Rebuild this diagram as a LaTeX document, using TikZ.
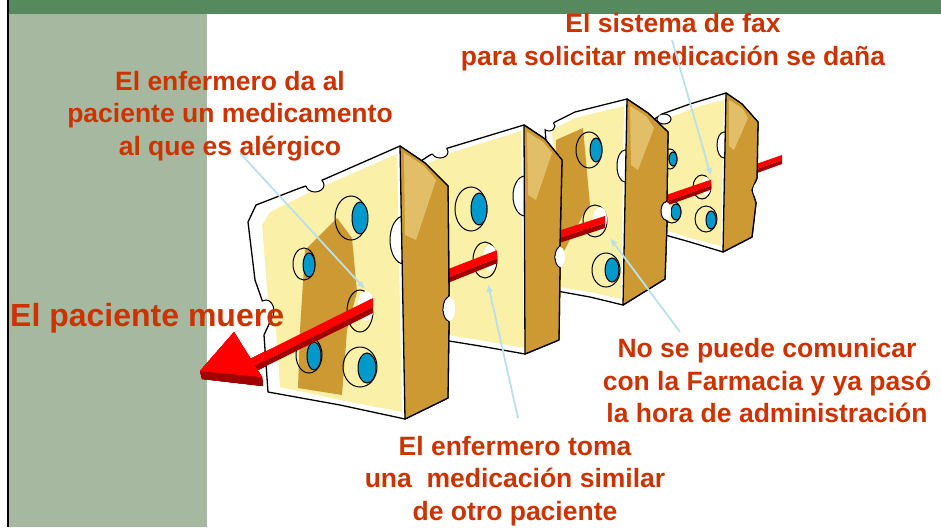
\documentclass[tikz,border=0pt]{standalone}
\usepackage{fontspec}
\setmainfont{Liberation Sans}
\usetikzlibrary{arrows.meta}
\definecolor{band}{RGB}{87,137,94}
\definecolor{panel}{RGB}{166,184,160}
\definecolor{txt}{RGB}{204,51,0}
\definecolor{cheese}{RGB}{250,240,168}
\definecolor{gold}{RGB}{204,153,51}
\definecolor{goldlight}{RGB}{226,190,105}
\definecolor{holeblue}{RGB}{0,153,204}
\definecolor{rodred}{RGB}{255,0,0}
\definecolor{roddark}{RGB}{160,0,0}
\definecolor{leader}{RGB}{188,224,234}

% a bite taken out of an edge: white inside, black rim only within the slice
\newcommand\cheesebite[4]{%
  \fill[white] #2 ellipse[x radius=#3,y radius=#4];
  \begin{scope}\clip #1; \draw[rim] #2 ellipse[x radius=#3,y radius=#4];\end{scope}}
% a blind hole: rim plus blue depth
\newcommand\cheesehole[7]{%
  \draw[rim] #1 ellipse[x radius=#2,y radius=#3];
  \filldraw[rim,fill=holeblue] #4 ellipse[x radius=#5,y radius=#6];}
% a through hole the rod passes
\newcommand\throughhole[6]{%
  \draw[rim] #1 ellipse[x radius=#2,y radius=#3];
  \fill[white] #4 ellipse[x radius=#5,y radius=#6];}

% the red rod and its arrow head
\newcommand\rodbody{%
  \fill[rodred] (782,155) -- (710,180) -- (605,216) -- (495,251) -- (373,298) -- (240,364)
     -- (240,373) -- (373,307) -- (495,259) -- (605,223) -- (710,186) -- (782,160) -- cycle;
  \fill[roddark] (782,160) -- (710,186) -- (605,223) -- (495,259) -- (373,307) -- (240,373)
     -- (240,379) -- (373,313) -- (495,264) -- (605,228) -- (710,190) -- (782,164) -- cycle;
  \fill[roddark] (200,371) -- (262,377) -- (263,386) -- (202,379) -- cycle;
  \fill[rodred] (200,371) -- (234,332) -- (262,377) -- cycle;}

\def\sliceDout{(650,122) -- (662,114) -- (690,104) -- (726,93) -- (742,104) -- (758,122) -- (757,178) -- (752,190) -- (756,203) -- (752,237) -- (723,252) -- (690,242) -- (658,233) -- cycle}
\def\sliceDside{(726,93) -- (742,104) -- (758,122) -- (757,178) -- (752,190) -- (756,203) -- (752,237) -- (723,252) -- cycle}
\def\sliceCout{(545,128) -- (555,122) -- (575,112) -- (627,99) -- (648,113) -- (668,132) -- (667,200) -- (662,210) -- (667,222) -- (665,279) -- (623,305) -- (590,297) -- (557,291) -- cycle}
\def\sliceCside{(627,99) -- (648,113) -- (668,132) -- (667,200) -- (662,210) -- (667,222) -- (665,279) -- (623,305) -- cycle}
\def\sliceBout{(415,165) -- (430,155) -- (448,148) -- (524,125) -- (545,139) -- (562,160) -- (560,245) -- (555,257) -- (560,268) -- (559,340) -- (525,354) -- (480,346) -- (443,340) -- cycle}
\def\sliceBside{(524,125) -- (545,139) -- (562,160) -- (560,245) -- (555,257) -- (560,268) -- (559,340) -- (525,354) -- cycle}
\def\sliceAout{(248,222) -- (256,205) -- (300,188) -- (318,182) -- (400,146) -- (425,163) -- (448,186) -- (449,295) -- (443,310) -- (449,322) -- (448,398) -- (405,419) -- (340,405) -- (268,392) -- (264,335) -- (270,322) -- (262,300) -- (255,280) -- cycle}
\def\sliceAside{(400,146) -- (425,163) -- (448,186) -- (449,295) -- (443,310) -- (449,322) -- (448,398) -- (405,419) -- cycle}

\begin{document}
\begin{tikzpicture}[x=1pt,y=-1pt,
  rim/.style={draw=black,line width=1pt},
  outline/.style={fill=white,draw=black,line width=1.3pt,line join=round},
  sideface/.style={fill=gold,draw=black,line width=1.3pt,line join=round},
  lbl/.style={font=\fontsize{26.5}{32.5}\selectfont\bfseries,text=txt,align=center,inner sep=0pt},
  pointer/.style={draw=leader,line width=1.8pt,-{Latex[length=8pt,width=7pt]}}]
\useasboundingbox (0,0) rectangle (941,527);
% slide background
\fill[white] (0,0) rectangle (941,527);
\fill[panel] (9,13) rectangle (207,527);
\fill[band] (9,0) rectangle (941,14);
\draw[line width=2.5pt] (8,0) -- (8,527);

% rod tail, behind every slice
\rodbody

% slice 4 (back)
\path[outline] \sliceDout;
\fill[cheese] (656,125) -- (668,118) -- (700,106) -- (724,100) -- (721,246) -- (690,238) -- (662,229) -- cycle;
\cheesehole{(670,159)}{7}{10}{(673,159)}{4}{7}{}
\throughhole{(702,187)}{9}{12}{(706,186)}{5}{9}
\cheesehole{(672,212)}{9}{11}{(676,212)}{5}{8}{}
\cheesehole{(706,219)}{11}{13}{(711,220)}{5}{9}{}
\cheesebite{\sliceDout}{(664,119)}{7}{5}
\cheesebite{\sliceDout}{(724,145)}{7}{13}
\path[sideface] \sliceDside;
\fill[goldlight] (729,100) -- (742,108) -- (748,118) -- (734,150) -- (729,146) -- cycle;
\cheesebite{\sliceDside}{(757,190)}{4}{7}
\begin{scope}\clip (0,0) rectangle (711,527); \rodbody \end{scope}

% slice 3
\path[outline] \sliceCout;
\fill[cheese] (552,130) -- (575,118) -- (624,106) -- (621,299) -- (590,292) -- (560,287) -- cycle;
\fill[gold] (556,140) -- (583,128) -- (590,205) -- (583,215) -- (562,255) -- (556,255) -- cycle;
\cheesehole{(589,150)}{13}{18}{(596,150)}{6}{12}{}
\throughhole{(595,221)}{12}{16}{(600,219)}{7}{12}
\cheesehole{(606,270)}{14}{17}{(612,270)}{7}{12}{}
\cheesebite{\sliceCout}{(549,126)}{6}{5}
\cheesebite{\sliceCout}{(625,166)}{8}{16}
\path[sideface] \sliceCside;
\fill[goldlight] (630,106) -- (646,116) -- (654,128) -- (638,170) -- (631,165) -- cycle;
\cheesebite{\sliceCside}{(666,211)}{5}{9}
\begin{scope}\clip (0,0) rectangle (605,527); \rodbody \end{scope}

% slice 2
\path[outline] \sliceBout;
\fill[cheese] (425,165) -- (450,153) -- (521,131) -- (524,348) -- (480,340) -- (447,335) -- cycle;
\cheesehole{(471,209)}{16}{22}{(479,209)}{8}{16}{}
\throughhole{(485,260)}{12}{18}{(490,258)}{7}{13}
\cheesebite{\sliceBout}{(440,152)}{8}{6}
\cheesebite{\sliceBout}{(525,196)}{12}{20}
\path[sideface] \sliceBside;
\fill[goldlight] (527,132) -- (543,142) -- (552,153) -- (536,200) -- (528,195) -- cycle;
\cheesebite{\sliceBside}{(560,257)}{5}{10}
\begin{scope}\clip (0,0) rectangle (497,527); \rodbody \end{scope}

% slice 1 (front)
\path[outline] \sliceAout;
\fill[cheese] (262,225) -- (270,212) -- (310,192) -- (397,154) -- (402,412) -- (340,400) -- (280,387) -- (276,330) -- (268,300) -- cycle;
\fill[gold] (305,250) -- (337,218) -- (352,238) -- (357,292) -- (347,330) -- (342,395) -- (298,388) -- (300,330) -- cycle;
\cheesehole{(351,218)}{16}{22}{(360,218)}{8}{16}{}
\cheesehole{(304,264)}{11}{16}{(309,265)}{6}{12}{}
\throughhole{(360,311)}{13}{21}{(366,306)}{8}{15}
\cheesehole{(309,355)}{13}{18}{(314,356)}{7}{14}{}
\cheesehole{(360,367)}{17}{20}{(367,368)}{9}{15}{}
\cheesebite{\sliceAout}{(315,185)}{9}{7}
\cheesebite{\sliceAout}{(266,311)}{8}{11}
\cheesebite{\sliceAout}{(404,240)}{14}{24}
\path[sideface] \sliceAside;
\fill[goldlight] (404,153) -- (424,166) -- (436,180) -- (416,240) -- (405,235) -- cycle;
\cheesebite{\sliceAside}{(449,309)}{6}{12}
\begin{scope}\clip (0,0) rectangle (373,527); \rodbody \end{scope}

% labels
\node[lbl] (fax) at (673,42) {El sistema de fax\\para solicitar medicación se daña};
\node[lbl] (allergy) at (230,116) {El enfermero da al\\paciente un medicamento\\al que es alérgico};
\node[lbl,font=\fontsize{32}{36}\selectfont\bfseries,anchor=west] (dies) at (10,318) {El paciente muere};
\node[lbl] (pharmacy) at (767,381) {No se puede comunicar\\con la Farmacia y ya pasó\\la hora de administración};
\node[lbl] (swap) at (515,481) {El enfermero toma\\una~~medicación similar\\de otro paciente};

% pointer ends
\coordinate (faxtail) at (672,40);
\coordinate (allergytail) at (240,153);
\coordinate (pharmacytail) at (680,332);
\coordinate (swaptail) at (518,418);
\coordinate (holeA) at (365,289);
\coordinate (holeB) at (488,284);
\coordinate (holeC) at (610,238);
\coordinate (holeD) at (711,176);
\draw[pointer] (allergytail) -- (holeA);
\draw[pointer] (swaptail) -- (holeB);
\draw[pointer] (pharmacytail) -- (holeC);
\draw[pointer] (faxtail) -- (holeD);
\end{tikzpicture}
\end{document}
